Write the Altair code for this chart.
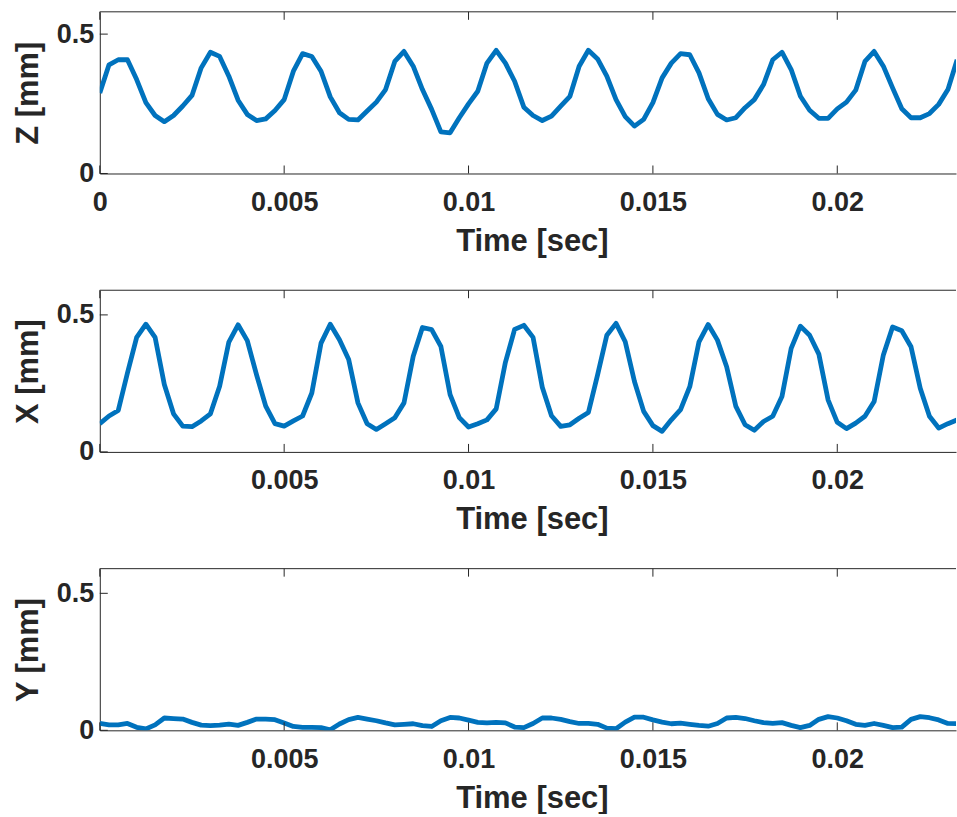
import altair as alt
import pandas as pd

DT = 0.00025  # sample interval (s)

z_vals = [0.289, 0.390, 0.408, 0.408, 0.337, 0.254, 0.208, 0.186, 0.208, 0.242,
          0.280, 0.379, 0.435, 0.420, 0.349, 0.263, 0.212, 0.190, 0.196, 0.226,
          0.265, 0.367, 0.430, 0.420, 0.367, 0.275, 0.218, 0.194, 0.192, 0.224,
          0.256, 0.301, 0.402, 0.438, 0.385, 0.301, 0.230, 0.149, 0.146, 0.200,
          0.250, 0.295, 0.396, 0.442, 0.396, 0.331, 0.238, 0.208, 0.190, 0.206,
          0.242, 0.277, 0.385, 0.442, 0.411, 0.349, 0.265, 0.204, 0.170, 0.194,
          0.254, 0.343, 0.396, 0.430, 0.426, 0.361, 0.268, 0.212, 0.192, 0.200,
          0.236, 0.265, 0.319, 0.408, 0.435, 0.373, 0.277, 0.227, 0.198, 0.198,
          0.232, 0.256, 0.299, 0.402, 0.438, 0.385, 0.307, 0.232, 0.200, 0.200,
          0.215, 0.248, 0.301, 0.408]

x_vals = [0.103, 0.131, 0.151, 0.288, 0.418, 0.466, 0.418, 0.246, 0.139, 0.094,
          0.092, 0.113, 0.139, 0.240, 0.401, 0.464, 0.406, 0.282, 0.167, 0.103,
          0.094, 0.113, 0.131, 0.215, 0.397, 0.466, 0.409, 0.337, 0.179, 0.103,
          0.082, 0.103, 0.125, 0.179, 0.349, 0.454, 0.446, 0.385, 0.209, 0.125,
          0.091, 0.103, 0.117, 0.157, 0.327, 0.447, 0.462, 0.418, 0.236, 0.132,
          0.093, 0.099, 0.123, 0.144, 0.281, 0.426, 0.469, 0.402, 0.257, 0.148,
          0.096, 0.075, 0.117, 0.154, 0.238, 0.402, 0.465, 0.408, 0.311, 0.166,
          0.099, 0.079, 0.111, 0.130, 0.202, 0.378, 0.459, 0.426, 0.357, 0.190,
          0.108, 0.085, 0.105, 0.130, 0.184, 0.354, 0.456, 0.442, 0.384, 0.232,
          0.130, 0.087, 0.103, 0.117]

y_vals = [0.025, 0.020, 0.020, 0.025, 0.011, 0.005, 0.020, 0.045, 0.043, 0.041,
          0.029, 0.019, 0.017, 0.019, 0.023, 0.018, 0.029, 0.041, 0.041, 0.039,
          0.027, 0.014, 0.011, 0.011, 0.010, 0.002, 0.023, 0.039, 0.047, 0.041,
          0.035, 0.027, 0.020, 0.022, 0.024, 0.017, 0.014, 0.035, 0.047, 0.045,
          0.037, 0.029, 0.027, 0.029, 0.027, 0.012, 0.010, 0.025, 0.045, 0.045,
          0.040, 0.032, 0.025, 0.025, 0.022, 0.008, 0.006, 0.030, 0.048, 0.048,
          0.038, 0.030, 0.024, 0.026, 0.022, 0.018, 0.015, 0.025, 0.045, 0.047,
          0.043, 0.035, 0.028, 0.025, 0.028, 0.018, 0.010, 0.018, 0.040, 0.050,
          0.045, 0.035, 0.022, 0.018, 0.025, 0.018, 0.010, 0.012, 0.040, 0.050,
          0.046, 0.038, 0.025, 0.024]

time_ticks = [0, 0.005, 0.01, 0.015, 0.02]
amp_ticks = [0, 0.5]

W = 858
H = 162
X_MAX = 0.02322
AX = "#262626"
BLUE = "#0072BD"
FONT = "Liberation Sans"


def panel(values, ylabel, ymax, label_vals):
    df = pd.DataFrame({"t": [round(i * DT, 6) for i in range(len(values))],
                       "v": values})
    xs = alt.Scale(domain=[0, X_MAX], nice=False, zero=False)
    ys = alt.Scale(domain=[0, ymax], nice=False)
    xax = alt.Axis(values=label_vals, format="~g", title="Time [sec]",
                   ticks=False, grid=False, labelPadding=16, labelFlush=False,
                   titlePadding=11, titleX=W / 2 + 4)
    yax = alt.Axis(values=amp_ticks, format="~g", title=ylabel,
                   ticks=False, grid=False, labelPadding=6, titlePadding=12)
    line = alt.Chart(df).mark_line(color=BLUE, strokeWidth=4.8, clip=True,
                                   strokeJoin="round").encode(
        x=alt.X("t:Q", scale=xs, axis=xax),
        y=alt.Y("v:Q", scale=ys, axis=yax),
    )
    tdf = pd.DataFrame({"t": time_ticks})
    bot = alt.Chart(tdf).mark_rule(color=AX, strokeWidth=1).encode(
        x=alt.X("t:Q", scale=xs, axis=xax), y=alt.value(H - 8), y2=alt.value(H))
    top = alt.Chart(tdf).mark_rule(color=AX, strokeWidth=1).encode(
        x=alt.X("t:Q", scale=xs, axis=xax), y=alt.value(0), y2=alt.value(8))
    ydf = pd.DataFrame({"v": amp_ticks})
    left = alt.Chart(ydf).mark_rule(color=AX, strokeWidth=1).encode(
        y=alt.Y("v:Q", scale=ys, axis=yax), x=alt.value(0), x2=alt.value(8))
    border = alt.Chart(pd.DataFrame({"v": [ymax]})).mark_rule(color=AX, strokeWidth=1).encode(
        y=alt.Y("v:Q", scale=ys, axis=yax), x=alt.value(0), x2=alt.value(W))
    return alt.layer(line, bot, top, left, border).properties(width=W, height=H)


p1 = panel(z_vals, "Z [mm]", 0.58, time_ticks)
p2 = panel(x_vals, "X [mm]", 0.59, time_ticks[1:])
p3 = panel(y_vals, "Y [mm]", 0.59, time_ticks[1:])

chart = alt.vconcat(p1, p2, p3, spacing=117, bounds="flush").resolve_scale(
    x="independent", y="independent"
).properties(
    padding={"left": 12, "top": 10, "right": 0, "bottom": 0},
    background="white",
).configure_view(stroke="transparent", strokeWidth=0).configure_axis(
    domainColor=AX, domainWidth=1,
    labelFont=FONT, labelFontWeight="bold", labelFontSize=27, labelColor=AX,
    titleFont=FONT, titleFontWeight="bold", titleFontSize=31, titleColor=AX,
)

chart.save("out.html", embed_options={"renderer": "svg", "actions": False})
